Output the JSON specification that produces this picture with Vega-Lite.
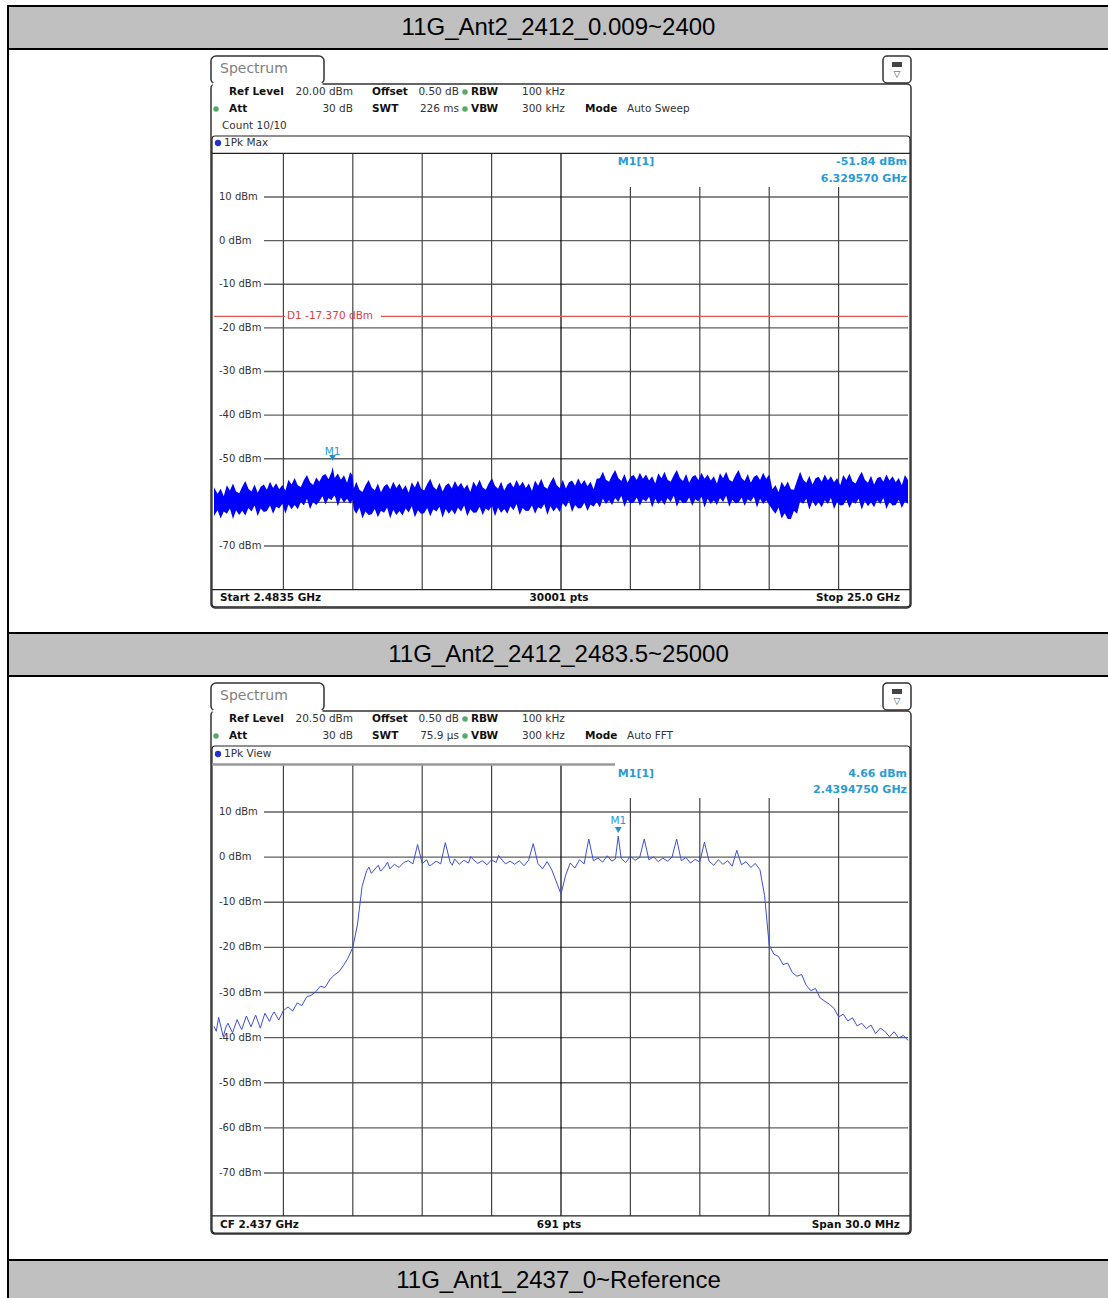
{
"$schema":"https://vega.github.io/schema/vega-lite/v6.json",
"padding":{"left":7,"top":5,"right":0,"bottom":0},
"spacing":0,
"bounds":"flush",
"background":"white",
"config":{"view":{"stroke":null},"concat":{"spacing":0},"axis":{"disable":true},
"text":{"font":"DejaVu Sans","fontSize":10.5,"baseline":"middle","align":"left","color":"#333"}},
"vconcat":[
{"width":1101,"height":43,"view":{"fill":"#c0c0c0","stroke":"#000","strokeWidth":2},
"data":{"values":[{"t":"11G_Ant2_2412_0.009~2400"}]},
"mark":{"type":"text","font":"Liberation Sans","fontSize":24,"align":"center","baseline":"middle","color":"#000"},
"encoding":{"text":{"field":"t","type":"nominal"},
"x":{"datum":0.5,"scale":{"domain":[0,1],"nice":false,"zero":false}},
"y":{"datum":0.5,"scale":{"domain":[0,1],"nice":false,"zero":false}}}},
{"width":1101,"height":584,"view":{"stroke":"#000","strokeWidth":2},
"data":{"values":[{}]},
"layer":[
{"data":{"values":[{"v":10},{"v":0},{"v":-10},{"v":-20},{"v":-30},{"v":-40},{"v":-50},{"v":-60},{"v":-70}]},
"mark":{"type":"rule","color":"#606060","strokeWidth":1.3},
"encoding":{"y":{"field":"v","type":"quantitative","scale":{"domain":[-89.948,43.931],"nice":false,"zero":false}},
"x":{"datum":4.1057,"scale":{"domain":[-4.20007,31.52134],"nice":false,"zero":false}},"x2":{"datum":25.0}}},
{"data":{"values":[{"f":4.73515},{"f":6.9868},{"f":9.23845},{"f":11.4901}]},"mark":{"type":"rule","color":"#444","strokeWidth":1.2},
"encoding":{"x":{"field":"f","type":"quantitative"},"y":{"datum":-80},"y2":{"datum":20}}},
{"data":{"values":[{"f":15.9934},{"f":18.24505},{"f":20.4967},{"f":22.74835}]},"mark":{"type":"rule","color":"#444","strokeWidth":1.2},
"encoding":{"x":{"field":"f","type":"quantitative"},"y":{"datum":-80},"y2":{"datum":12.3}}},
{"mark":{"type":"rule","color":"#000","strokeWidth":1.2},"encoding":{"x":{"datum":13.74175},"y":{"datum":-80},"y2":{"datum":20}}},
{"data":{"values":[{"v":10,"l":"10 dBm"},{"v":0,"l":"0 dBm"},{"v":-10,"l":"-10 dBm"},{"v":-20,"l":"-20 dBm"},{"v":-30,"l":"-30 dBm"},{"v":-40,"l":"-40 dBm"},{"v":-50,"l":"-50 dBm"},{"v":-60,"l":"-60 dBm"},{"v":-70,"l":"-70 dBm"}]},
"mark":{"type":"text","fontSize":10,"color":"#333"},
"encoding":{"x":{"datum":2.6457},"y":{"field":"v","type":"quantitative"},"text":{"field":"l","type":"nominal"}}},
{"mark":{"type":"rule","color":"#e05555","strokeWidth":1.2},"encoding":{"x":{"datum":2.4835},"x2":{"datum":4.7871},"y":{"datum":-17.37}}},
{"mark":{"type":"rule","color":"#e05555","strokeWidth":1.2},"encoding":{"x":{"datum":7.9017},"x2":{"datum":25.0},"y":{"datum":-17.37}}},
{"mark":{"type":"text","text":"D1 -17.370 dBm","color":"#e0403a","fontSize":10.5},"encoding":{"x":{"datum":4.8519},"y":{"datum":-17.37}}},
{"data":{"values":[
{"f":2.4835,"lo":-63.1,"hi":-56.6},{"f":2.6,"lo":-61.8,"hi":-58.0},{"f":2.7,"lo":-63.7,"hi":-56.9},{"f":2.8,"lo":-62.1,"hi":-58.6},
{"f":2.9,"lo":-62.6,"hi":-56.1},{"f":3.0,"lo":-61.4,"hi":-57.3},{"f":3.1,"lo":-63.8,"hi":-55.7},{"f":3.2,"lo":-61.8,"hi":-57.5},
{"f":3.3,"lo":-62.9,"hi":-57.9},{"f":3.4,"lo":-61.9,"hi":-56.4},{"f":3.5,"lo":-63.0,"hi":-55.1},{"f":3.6,"lo":-61.3,"hi":-56.9},
{"f":3.7,"lo":-62.1,"hi":-57.5},{"f":3.8,"lo":-60.7,"hi":-55.9},{"f":3.9,"lo":-63.1,"hi":-57.8},{"f":4.0,"lo":-61.4,"hi":-56.4},
{"f":4.1,"lo":-62.2,"hi":-55.9},{"f":4.2,"lo":-62.0,"hi":-57.1},{"f":4.3,"lo":-60.7,"hi":-55.3},{"f":4.4,"lo":-62.6,"hi":-56.7},
{"f":4.5,"lo":-61.0,"hi":-55.6},{"f":4.6,"lo":-61.4,"hi":-57.0},{"f":4.7,"lo":-60.3,"hi":-56.0},{"f":4.8,"lo":-62.6,"hi":-57.3},
{"f":4.9,"lo":-60.5,"hi":-54.8},{"f":5.0,"lo":-61.6,"hi":-55.9},{"f":5.1,"lo":-60.6,"hi":-54.4},{"f":5.2,"lo":-61.6,"hi":-56.1},
{"f":5.3,"lo":-59.9,"hi":-56.5},{"f":5.4,"lo":-60.7,"hi":-54.9},{"f":5.5,"lo":-59.2,"hi":-53.7},{"f":5.6,"lo":-61.6,"hi":-55.4},
{"f":5.7,"lo":-59.9,"hi":-56.0},{"f":5.8,"lo":-60.6,"hi":-54.3},{"f":5.9,"lo":-59.8,"hi":-55.3},{"f":6.0,"lo":-58.6,"hi":-53.9},
{"f":6.1,"lo":-60.5,"hi":-53.5},{"f":6.2,"lo":-59.0,"hi":-54.7},{"f":6.3,"lo":-59.5,"hi":-53.0},{"f":6.3296,"lo":-59.0,"hi":-51.84},
{"f":6.4,"lo":-58.4,"hi":-54.4},{"f":6.5,"lo":-60.9,"hi":-53.4},{"f":6.6,"lo":-58.9,"hi":-54.8},{"f":6.7,"lo":-60.1,"hi":-53.8},
{"f":6.8,"lo":-59.2,"hi":-55.5},{"f":6.9,"lo":-60.3,"hi":-53.1},{"f":6.98,"lo":-59.4,"hi":-53.8},{"f":7.02,"lo":-61.7,"hi":-56.8},
{"f":7.1,"lo":-62.6,"hi":-55.3},{"f":7.2,"lo":-61.2,"hi":-57.1},{"f":7.3,"lo":-63.7,"hi":-57.6},{"f":7.4,"lo":-62.1,"hi":-56.1},
{"f":7.5,"lo":-62.9,"hi":-54.9},{"f":7.6,"lo":-62.7,"hi":-56.6},{"f":7.7,"lo":-61.5,"hi":-57.3},{"f":7.8,"lo":-63.4,"hi":-55.7},
{"f":7.9,"lo":-61.9,"hi":-57.7},{"f":8.0,"lo":-62.4,"hi":-56.3},{"f":8.1,"lo":-61.2,"hi":-55.8},{"f":8.2,"lo":-63.7,"hi":-57.0},
{"f":8.3,"lo":-61.7,"hi":-55.3},{"f":8.4,"lo":-62.9,"hi":-56.7},{"f":8.5,"lo":-62.0,"hi":-55.7},{"f":8.6,"lo":-63.0,"hi":-57.1},
{"f":8.7,"lo":-61.4,"hi":-56.1},{"f":8.8,"lo":-62.3,"hi":-57.8},{"f":8.9,"lo":-60.9,"hi":-55.4},{"f":9.0,"lo":-63.4,"hi":-56.6},
{"f":9.1,"lo":-61.8,"hi":-55.0},{"f":9.2,"lo":-62.6,"hi":-56.8},{"f":9.3,"lo":-62.5,"hi":-57.3},{"f":9.4,"lo":-61.3,"hi":-55.8},
{"f":9.5,"lo":-63.2,"hi":-54.6},{"f":9.6,"lo":-61.6,"hi":-56.4},{"f":9.7,"lo":-62.1,"hi":-57.1},{"f":9.8,"lo":-61.0,"hi":-55.5},
{"f":9.9,"lo":-63.5,"hi":-57.5},{"f":10.0,"lo":-61.5,"hi":-56.1},{"f":10.1,"lo":-62.6,"hi":-55.6},{"f":10.2,"lo":-61.7,"hi":-56.8},
{"f":10.3,"lo":-62.8,"hi":-55.1},{"f":10.4,"lo":-61.2,"hi":-56.5},{"f":10.5,"lo":-62.1,"hi":-55.5},{"f":10.6,"lo":-60.7,"hi":-56.9},
{"f":10.7,"lo":-63.2,"hi":-55.9},{"f":10.8,"lo":-61.6,"hi":-57.6},{"f":10.9,"lo":-62.4,"hi":-55.2},{"f":11.0,"lo":-62.3,"hi":-56.4},
{"f":11.1,"lo":-61.0,"hi":-54.8},{"f":11.2,"lo":-62.9,"hi":-56.6},{"f":11.3,"lo":-61.4,"hi":-57.1},{"f":11.4,"lo":-61.9,"hi":-55.6},
{"f":11.5,"lo":-60.8,"hi":-54.4},{"f":11.6,"lo":-63.2,"hi":-56.2},{"f":11.7,"lo":-61.2,"hi":-56.9},{"f":11.8,"lo":-62.4,"hi":-55.3},
{"f":11.9,"lo":-61.5,"hi":-57.3},{"f":12.0,"lo":-62.6,"hi":-55.9},{"f":12.1,"lo":-60.9,"hi":-55.4},{"f":12.2,"lo":-61.8,"hi":-56.6},
{"f":12.3,"lo":-60.4,"hi":-54.9},{"f":12.4,"lo":-62.9,"hi":-56.3},{"f":12.5,"lo":-61.3,"hi":-55.3},{"f":12.6,"lo":-62.0,"hi":-56.7},
{"f":12.7,"lo":-61.9,"hi":-55.7},{"f":12.8,"lo":-60.7,"hi":-57.4},{"f":12.9,"lo":-62.6,"hi":-55.0},{"f":13.0,"lo":-61.1,"hi":-56.2},
{"f":13.1,"lo":-61.5,"hi":-54.6},{"f":13.2,"lo":-60.4,"hi":-56.4},{"f":13.3,"lo":-62.9,"hi":-56.9},{"f":13.4,"lo":-60.9,"hi":-55.4},
{"f":13.5,"lo":-62.1,"hi":-54.2},{"f":13.6,"lo":-61.1,"hi":-56.0},{"f":13.7,"lo":-62.2,"hi":-56.7},{"f":13.8,"lo":-60.2,"hi":-54.8},
{"f":13.9,"lo":-61.1,"hi":-56.8},{"f":14.0,"lo":-59.7,"hi":-55.4},{"f":14.1,"lo":-62.2,"hi":-55.0},{"f":14.2,"lo":-60.6,"hi":-56.2},
{"f":14.3,"lo":-61.4,"hi":-54.5},{"f":14.4,"lo":-61.3,"hi":-55.9},{"f":14.5,"lo":-60.1,"hi":-54.9},{"f":14.6,"lo":-62.0,"hi":-56.3},
{"f":14.7,"lo":-60.5,"hi":-55.3},{"f":14.8,"lo":-61.0,"hi":-57.0},{"f":14.9,"lo":-59.9,"hi":-54.6},{"f":15.0,"lo":-61.2,"hi":-54.5},
{"f":15.1,"lo":-59.2,"hi":-53.0},{"f":15.2,"lo":-60.4,"hi":-54.8},{"f":15.3,"lo":-59.5,"hi":-55.3},{"f":15.4,"lo":-60.6,"hi":-53.8},
{"f":15.5,"lo":-59.0,"hi":-52.6},{"f":15.6,"lo":-59.9,"hi":-54.4},{"f":15.7,"lo":-58.5,"hi":-55.1},{"f":15.8,"lo":-61.0,"hi":-53.5},
{"f":15.9,"lo":-59.4,"hi":-55.5},{"f":16.0,"lo":-60.2,"hi":-54.1},{"f":16.1,"lo":-60.1,"hi":-53.7},{"f":16.2,"lo":-58.9,"hi":-54.9},
{"f":16.3,"lo":-60.8,"hi":-53.2},{"f":16.4,"lo":-59.3,"hi":-54.6},{"f":16.5,"lo":-59.8,"hi":-53.6},{"f":16.6,"lo":-58.7,"hi":-55.0},
{"f":16.7,"lo":-61.2,"hi":-54.0},{"f":16.8,"lo":-59.2,"hi":-55.7},{"f":16.9,"lo":-60.4,"hi":-53.3},{"f":17.0,"lo":-59.5,"hi":-54.5},
{"f":17.1,"lo":-60.6,"hi":-53.0},{"f":17.2,"lo":-59.0,"hi":-54.8},{"f":17.3,"lo":-59.9,"hi":-55.3},{"f":17.4,"lo":-58.5,"hi":-53.8},
{"f":17.5,"lo":-61.0,"hi":-52.6},{"f":17.6,"lo":-59.4,"hi":-54.4},{"f":17.7,"lo":-60.2,"hi":-55.1},{"f":17.8,"lo":-60.1,"hi":-53.5},
{"f":17.9,"lo":-58.9,"hi":-55.5},{"f":18.0,"lo":-60.8,"hi":-54.1},{"f":18.1,"lo":-59.3,"hi":-53.7},{"f":18.2,"lo":-59.8,"hi":-54.9},
{"f":18.3,"lo":-58.7,"hi":-53.2},{"f":18.4,"lo":-61.2,"hi":-54.6},{"f":18.5,"lo":-59.2,"hi":-53.6},{"f":18.6,"lo":-60.4,"hi":-55.0},
{"f":18.7,"lo":-59.5,"hi":-54.0},{"f":18.8,"lo":-60.6,"hi":-55.7},{"f":18.9,"lo":-59.0,"hi":-53.3},{"f":19.0,"lo":-59.9,"hi":-54.5},
{"f":19.1,"lo":-58.5,"hi":-53.0},{"f":19.2,"lo":-61.0,"hi":-54.8},{"f":19.3,"lo":-59.4,"hi":-55.3},{"f":19.4,"lo":-60.2,"hi":-53.8},
{"f":19.5,"lo":-60.1,"hi":-52.6},{"f":19.6,"lo":-58.9,"hi":-54.4},{"f":19.7,"lo":-60.8,"hi":-55.1},{"f":19.8,"lo":-59.3,"hi":-53.5},
{"f":19.9,"lo":-59.8,"hi":-55.5},{"f":20.0,"lo":-58.7,"hi":-54.1},{"f":20.1,"lo":-61.2,"hi":-53.7},{"f":20.2,"lo":-59.2,"hi":-54.9},
{"f":20.3,"lo":-60.4,"hi":-53.2},{"f":20.4,"lo":-59.5,"hi":-54.6},{"f":20.5,"lo":-60.6,"hi":-53.6},{"f":20.6,"lo":-61.7,"hi":-57.0},
{"f":20.7,"lo":-62.6,"hi":-56.0},{"f":20.8,"lo":-61.2,"hi":-57.7},{"f":20.9,"lo":-63.7,"hi":-55.3},{"f":21.0,"lo":-62.5,"hi":-56.5},
{"f":21.1,"lo":-63.8,"hi":-55.2},{"f":21.2,"lo":-63.8,"hi":-57.0},{"f":21.3,"lo":-61.9,"hi":-57.1},{"f":21.4,"lo":-62.6,"hi":-55.0},
{"f":21.5,"lo":-59.8,"hi":-53.0},{"f":21.6,"lo":-60.3,"hi":-54.8},{"f":21.7,"lo":-59.2,"hi":-55.5},{"f":21.8,"lo":-61.7,"hi":-53.9},
{"f":21.9,"lo":-59.7,"hi":-55.9},{"f":22.0,"lo":-60.9,"hi":-54.5},{"f":22.1,"lo":-60.0,"hi":-54.1},{"f":22.2,"lo":-61.1,"hi":-55.3},
{"f":22.3,"lo":-59.5,"hi":-53.6},{"f":22.4,"lo":-60.4,"hi":-55.0},{"f":22.5,"lo":-59.0,"hi":-54.0},{"f":22.6,"lo":-61.5,"hi":-55.4},
{"f":22.7,"lo":-59.9,"hi":-54.4},{"f":22.8,"lo":-60.7,"hi":-56.1},{"f":22.9,"lo":-60.6,"hi":-53.7},{"f":23.0,"lo":-59.4,"hi":-54.9},
{"f":23.1,"lo":-61.3,"hi":-53.4},{"f":23.2,"lo":-59.8,"hi":-55.2},{"f":23.3,"lo":-60.3,"hi":-55.7},{"f":23.4,"lo":-59.2,"hi":-54.2},
{"f":23.5,"lo":-61.7,"hi":-53.0},{"f":23.6,"lo":-59.7,"hi":-54.8},{"f":23.7,"lo":-60.9,"hi":-55.5},{"f":23.8,"lo":-60.0,"hi":-53.9},
{"f":23.9,"lo":-61.1,"hi":-55.9},{"f":24.0,"lo":-59.5,"hi":-54.5},{"f":24.1,"lo":-60.4,"hi":-54.1},{"f":24.2,"lo":-59.0,"hi":-55.3},
{"f":24.3,"lo":-61.5,"hi":-53.6},{"f":24.4,"lo":-59.9,"hi":-55.0},{"f":24.5,"lo":-60.7,"hi":-54.0},{"f":24.6,"lo":-60.6,"hi":-55.4},
{"f":24.7,"lo":-59.4,"hi":-54.4},{"f":24.8,"lo":-61.3,"hi":-56.1},{"f":24.9,"lo":-59.8,"hi":-53.7},{"f":25.0,"lo":-60.3,"hi":-54.9}]},
"mark":{"type":"area","color":"#0000ff"},
"encoding":{"x":{"field":"f","type":"quantitative"},"y":{"field":"lo","type":"quantitative"},"y2":{"field":"hi"}}},
{"mark":{"type":"point","shape":"triangle-down","filled":true,"color":"#1f8fd0","size":45,"opacity":1},"encoding":{"x":{"datum":6.32957},"y":{"datum":-49.82}}},
{"mark":{"type":"text","text":"M1","align":"center","color":"#2a9bd5","fontSize":10.5},"encoding":{"x":{"datum":6.32957},"y":{"datum":-48.45}}},
{"mark":{"type":"text","text":"M1[1]","align":"center","color":"#2a9bd5","fontSize":11,"fontWeight":"bold"},"encoding":{"x":{"datum":16.1751},"y":{"datum":18.03}}},
{"mark":{"type":"text","text":"-51.84 dBm","align":"right","color":"#2a9bd5","fontSize":11,"fontWeight":"bold"},"encoding":{"x":{"datum":24.9676},"y":{"datum":18.03}}},
{"mark":{"type":"text","text":"6.329570 GHz","align":"right","color":"#2a9bd5","fontSize":11,"fontWeight":"bold"},"encoding":{"x":{"datum":24.9676},"y":{"datum":14.132}}},
{"mark":{"type":"rect","fill":"transparent","stroke":"#333","strokeWidth":1.5,"cornerRadius":4},"encoding":{"x":{"datum":2.3862},"x2":{"datum":25.0973},"y":{"datum":35.908},"y2":{"datum":-84.206}}},
{"mark":{"type":"rect","fill":"transparent","stroke":"#222","strokeWidth":1.2,"cornerRadius":3},"encoding":{"x":{"datum":2.4186},"x2":{"datum":25.0648},"y":{"datum":23.989},"y2":{"datum":-83.977}}},
{"mark":{"type":"rule","color":"#222","strokeWidth":1.2},"encoding":{"x":{"datum":2.4186},"x2":{"datum":25.0648},"y":{"datum":20}}},
{"mark":{"type":"rule","color":"#222","strokeWidth":1.2},"encoding":{"x":{"datum":2.4186},"x2":{"datum":25.0648},"y":{"datum":-80}}},
{"mark":{"type":"rect","fill":"white","stroke":"#333","strokeWidth":1.5,"cornerRadius":5},"encoding":{"x":{"datum":2.3862},"x2":{"datum":6.0524},"y":{"datum":42.327},"y2":{"datum":35.908}}},
{"mark":{"type":"rule","color":"white","strokeWidth":2.5},"encoding":{"x":{"datum":2.4348},"x2":{"datum":6.0037},"y":{"datum":35.908}}},
{"mark":{"type":"rect","fill":"white","stroke":"#333","strokeWidth":1.5,"cornerRadius":4},"encoding":{"x":{"datum":24.1889},"x2":{"datum":25.0973},"y":{"datum":42.327},"y2":{"datum":36.137}}},
{"mark":{"type":"rect","fill":"#444"},"encoding":{"x":{"datum":24.4809},"x2":{"datum":24.8053},"y":{"datum":40.951},"y2":{"datum":39.805}}},
{"mark":{"type":"text","text":"▽","align":"center","fontSize":9,"color":"#444"},"encoding":{"x":{"datum":24.6431},"y":{"datum":38.2}}},
{"mark":{"type":"text","text":"Spectrum","fontSize":14,"color":"#808080"},"encoding":{"x":{"datum":2.6782},"y":{"datum":39.347}}},
{"mark":{"type":"text","text":"Ref Level","fontWeight":"bold","color":"#111"},"encoding":{"x":{"datum":2.9702},"y":{"datum":34.075}}},
{"mark":{"type":"text","text":"20.00 dBm","align":"right"},"encoding":{"x":{"datum":6.9933},"y":{"datum":34.075}}},
{"mark":{"type":"text","text":"Offset","fontWeight":"bold","color":"#111"},"encoding":{"x":{"datum":7.6098},"y":{"datum":34.075}}},
{"mark":{"type":"text","text":"0.50 dB","align":"right"},"encoding":{"x":{"datum":10.4324},"y":{"datum":34.075}}},
{"mark":{"type":"text","text":"RBW","fontWeight":"bold","color":"#111"},"encoding":{"x":{"datum":10.8218},"y":{"datum":34.075}}},
{"mark":{"type":"text","text":"100 kHz"},"encoding":{"x":{"datum":12.4764},"y":{"datum":34.075}}},
{"mark":{"type":"text","text":"Att","fontWeight":"bold","color":"#111"},"encoding":{"x":{"datum":2.9702},"y":{"datum":30.178}}},
{"mark":{"type":"text","text":"30 dB","align":"right"},"encoding":{"x":{"datum":6.9933},"y":{"datum":30.178}}},
{"mark":{"type":"text","text":"SWT","fontWeight":"bold","color":"#111"},"encoding":{"x":{"datum":7.6098},"y":{"datum":30.178}}},
{"mark":{"type":"text","text":"226 ms","align":"right"},"encoding":{"x":{"datum":10.4324},"y":{"datum":30.178}}},
{"mark":{"type":"text","text":"VBW","fontWeight":"bold","color":"#111"},"encoding":{"x":{"datum":10.8218},"y":{"datum":30.178}}},
{"mark":{"type":"text","text":"300 kHz"},"encoding":{"x":{"datum":12.4764},"y":{"datum":30.178}}},
{"mark":{"type":"text","text":"Mode","fontWeight":"bold","color":"#111"},"encoding":{"x":{"datum":14.5204},"y":{"datum":30.178}}},
{"mark":{"type":"text","text":"Auto Sweep"},"encoding":{"x":{"datum":15.8831},"y":{"datum":30.178}}},
{"mark":{"type":"text","text":"Count 10/10"},"encoding":{"x":{"datum":2.7431},"y":{"datum":26.281}}},
{"mark":{"type":"text","text":"1Pk Max"},"encoding":{"x":{"datum":2.8079},"y":{"datum":22.384}}},
{"mark":{"type":"point","shape":"circle","filled":true,"color":"#55aa66","size":30,"opacity":1},"encoding":{"x":{"datum":10.6271},"y":{"datum":34.075}}},
{"mark":{"type":"point","shape":"circle","filled":true,"color":"#55aa66","size":30,"opacity":1},"encoding":{"x":{"datum":10.6271},"y":{"datum":30.178}}},
{"mark":{"type":"point","shape":"circle","filled":true,"color":"#55aa66","size":30,"opacity":1},"encoding":{"x":{"datum":2.5484},"y":{"datum":30.178}}},
{"mark":{"type":"point","shape":"circle","filled":true,"color":"#2233cc","size":40,"opacity":1},"encoding":{"x":{"datum":2.6133},"y":{"datum":22.384}}},
{"mark":{"type":"text","text":"Start 2.4835 GHz","fontWeight":"bold","color":"#111","fontSize":10.5},"encoding":{"x":{"datum":2.6782},"y":{"datum":-81.91}}},
{"mark":{"type":"text","text":"30001 pts","fontWeight":"bold","color":"#111","align":"center","fontSize":10.5},"encoding":{"x":{"datum":13.6769},"y":{"datum":-81.91}}},
{"mark":{"type":"text","text":"Stop 25.0 GHz","fontWeight":"bold","color":"#111","align":"right","fontSize":10.5},"encoding":{"x":{"datum":24.7405},"y":{"datum":-81.91}}}
]},
{"width":1101,"height":43,"view":{"fill":"#c0c0c0","stroke":"#000","strokeWidth":2},
"data":{"values":[{"t":"11G_Ant2_2412_2483.5~25000"}]},
"mark":{"type":"text","font":"Liberation Sans","fontSize":24,"align":"center","baseline":"middle","color":"#000"},
"encoding":{"text":{"field":"t","type":"nominal"},
"x":{"datum":0.5,"scale":{"domain":[0,1],"nice":false,"zero":false}},
"y":{"datum":0.5,"scale":{"domain":[0,1],"nice":false,"zero":false}}}},
{"width":1101,"height":584,"view":{"stroke":"#000","strokeWidth":2},
"data":{"values":[{}]},
"layer":[
{"data":{"values":[{"v":10},{"v":0},{"v":-10},{"v":-20},{"v":-30},{"v":-40},{"v":-50},{"v":-60},{"v":-70}]},
"mark":{"type":"rule","color":"#606060","strokeWidth":1.3},
"encoding":{"y":{"field":"v","type":"quantitative","scale":{"domain":[-89.273,40.134],"nice":false,"zero":false}},
"x":{"datum":2424.161,"scale":{"domain":[2413.095,2460.689],"nice":false,"zero":false}},"x2":{"datum":2452}}},
{"data":{"values":[{"f":2425},{"f":2428},{"f":2431},{"f":2434}]},"mark":{"type":"rule","color":"#444","strokeWidth":1.2},
"encoding":{"x":{"field":"f","type":"quantitative"},"y":{"datum":-79.5},"y2":{"datum":20.5}}},
{"data":{"values":[{"f":2440},{"f":2443},{"f":2446},{"f":2449}]},"mark":{"type":"rule","color":"#444","strokeWidth":1.2},
"encoding":{"x":{"field":"f","type":"quantitative"},"y":{"datum":-79.5},"y2":{"datum":13.098}}},
{"mark":{"type":"rule","color":"#000","strokeWidth":1.2},"encoding":{"x":{"datum":2437},"y":{"datum":-79.5},"y2":{"datum":20.5}}},
{"data":{"values":[{"v":10,"l":"10 dBm"},{"v":0,"l":"0 dBm"},{"v":-10,"l":"-10 dBm"},{"v":-20,"l":"-20 dBm"},{"v":-30,"l":"-30 dBm"},{"v":-40,"l":"-40 dBm"},{"v":-50,"l":"-50 dBm"},{"v":-60,"l":"-60 dBm"},{"v":-70,"l":"-70 dBm"}]},
"mark":{"type":"text","fontSize":10,"color":"#333"},
"encoding":{"x":{"datum":2422.216},"y":{"field":"v","type":"quantitative"},"text":{"field":"l","type":"nominal"}}},
{"data":{"values":[
{"f":2422.0,"p":-37.5},{"f":2422.1,"p":-38.6},{"f":2422.2,"p":-35.5},{"f":2422.4,"p":-39.8},{"f":2422.5,"p":-37.9},{"f":2422.6,"p":-36.8},{"f":2422.8,"p":-38.9},{"f":2423.0,"p":-36.0},
{"f":2423.1,"p":-37.2},{"f":2423.2,"p":-38.2},{"f":2423.4,"p":-35.2},{"f":2423.6,"p":-37.6},{"f":2423.7,"p":-36.3},{"f":2423.8,"p":-35.0},{"f":2424.0,"p":-37.9},{"f":2424.2,"p":-34.6},
{"f":2424.4,"p":-36.4},{"f":2424.5,"p":-35.1},{"f":2424.6,"p":-34.3},{"f":2424.8,"p":-36.1},{"f":2425.0,"p":-34.0},{"f":2425.2,"p":-33.2},{"f":2425.4,"p":-34.1},
{"f":2425.6,"p":-32.3},{"f":2425.8,"p":-32.9},{"f":2426.0,"p":-31.0},{"f":2426.2,"p":-30.6},{"f":2426.4,"p":-29.8},{"f":2426.6,"p":-28.6},
{"f":2426.8,"p":-28.9},{"f":2427.0,"p":-27.2},{"f":2427.2,"p":-26.1},{"f":2427.4,"p":-25.4},{"f":2427.6,"p":-24.0},{"f":2427.8,"p":-22.3},
{"f":2428.0,"p":-20.0},{"f":2428.2,"p":-15.0},{"f":2428.4,"p":-6.5},{"f":2428.6,"p":-3.0},{"f":2428.7,"p":-2.2},{"f":2428.8,"p":-3.6},{"f":2429.0,"p":-2.4},
{"f":2429.1,"p":-1.8},{"f":2429.2,"p":-3.1},{"f":2429.4,"p":-2.0},{"f":2429.5,"p":-1.1},{"f":2429.6,"p":-2.6},{"f":2429.8,"p":-1.6},{"f":2430.0,"p":-2.3},{"f":2430.2,"p":-1.2},
{"f":2430.4,"p":-0.8},{"f":2430.6,"p":-1.5},{"f":2430.8,"p":2.8},{"f":2431.0,"p":-1.4},{"f":2431.2,"p":-0.6},{"f":2431.3,"p":-1.9},{"f":2431.4,"p":-1.7},
{"f":2431.6,"p":-0.9},{"f":2431.8,"p":-1.5},{"f":2432.0,"p":3.2},{"f":2432.2,"p":-1.0},{"f":2432.3,"p":-1.8},{"f":2432.4,"p":-0.4},{"f":2432.6,"p":-1.6},
{"f":2432.8,"p":-0.7},{"f":2433.0,"p":-1.3},{"f":2433.1,"p":0.1},{"f":2433.2,"p":-0.5},{"f":2433.4,"p":-1.4},{"f":2433.6,"p":-0.8},{"f":2433.8,"p":-1.7},
{"f":2434.0,"p":-0.6},{"f":2434.2,"p":-1.2},{"f":2434.3,"p":0.4},{"f":2434.4,"p":-0.3},{"f":2434.6,"p":-1.5},{"f":2434.8,"p":-0.9},{"f":2435.0,"p":-1.6},
{"f":2435.2,"p":-0.8},{"f":2435.4,"p":-1.9},{"f":2435.6,"p":-0.7},{"f":2435.8,"p":3.0},{"f":2436.0,"p":-1.4},{"f":2436.2,"p":-2.6},
{"f":2436.4,"p":-1.0},{"f":2436.6,"p":-2.8},{"f":2436.8,"p":-5.5},{"f":2437.0,"p":-8.2},{"f":2437.2,"p":-4.0},{"f":2437.4,"p":-1.3},
{"f":2437.6,"p":-2.4},{"f":2437.8,"p":-0.6},{"f":2438.0,"p":-1.5},{"f":2438.2,"p":4.0},{"f":2438.4,"p":-0.8},{"f":2438.6,"p":-0.2},
{"f":2438.8,"p":-1.1},{"f":2439.0,"p":0.3},{"f":2439.2,"p":-0.9},{"f":2439.35,"p":-0.4},{"f":2439.475,"p":4.66},{"f":2439.6,"p":-0.3},
{"f":2439.8,"p":-1.2},{"f":2440.0,"p":0.2},{"f":2440.2,"p":-0.7},{"f":2440.4,"p":-0.1},{"f":2440.6,"p":4.0},{"f":2440.8,"p":-0.6},
{"f":2441.0,"p":0.1},{"f":2441.2,"p":-1.0},{"f":2441.4,"p":-0.2},{"f":2441.6,"p":-0.9},{"f":2441.8,"p":0.0},{"f":2442.0,"p":4.0},
{"f":2442.2,"p":-0.8},{"f":2442.4,"p":-0.1},{"f":2442.6,"p":-1.3},{"f":2442.8,"p":-0.5},{"f":2443.0,"p":-1.1},{"f":2443.2,"p":3.3},
{"f":2443.4,"p":-0.9},{"f":2443.6,"p":-1.8},{"f":2443.8,"p":-0.6},{"f":2444.0,"p":-1.6},{"f":2444.2,"p":-0.8},{"f":2444.4,"p":-2.0},
{"f":2444.6,"p":1.5},{"f":2444.8,"p":-1.7},{"f":2445.0,"p":-1.0},{"f":2445.2,"p":-2.3},{"f":2445.4,"p":-1.4},{"f":2445.6,"p":-2.8},
{"f":2445.8,"p":-8.5},{"f":2446.0,"p":-19.5},{"f":2446.2,"p":-21.5},{"f":2446.4,"p":-22.0},{"f":2446.6,"p":-23.8},{"f":2446.8,"p":-23.5},
{"f":2447.0,"p":-25.6},{"f":2447.2,"p":-26.4},{"f":2447.4,"p":-26.0},{"f":2447.6,"p":-28.4},{"f":2447.8,"p":-29.6},{"f":2448.0,"p":-29.1},
{"f":2448.2,"p":-31.2},{"f":2448.4,"p":-31.9},{"f":2448.6,"p":-32.6},{"f":2448.8,"p":-33.5},{"f":2449.0,"p":-35.4},{"f":2449.2,"p":-34.8},
{"f":2449.4,"p":-36.3},{"f":2449.6,"p":-35.6},{"f":2449.8,"p":-37.4},{"f":2450.0,"p":-36.8},{"f":2450.2,"p":-38.0},{"f":2450.4,"p":-37.2},
{"f":2450.6,"p":-39.1},{"f":2450.8,"p":-37.9},{"f":2451.0,"p":-38.6},{"f":2451.2,"p":-39.8},{"f":2451.4,"p":-38.7},{"f":2451.6,"p":-40.1},
{"f":2451.8,"p":-39.5},{"f":2452.0,"p":-40.6}]},
"mark":{"type":"line","color":"#3b4fd6","strokeWidth":1},
"encoding":{"x":{"field":"f","type":"quantitative"},"y":{"field":"p","type":"quantitative"}}},
{"mark":{"type":"point","shape":"triangle-down","filled":true,"color":"#1f8fd0","size":45,"opacity":1},"encoding":{"x":{"datum":2439.475},"y":{"datum":6.007}}},
{"mark":{"type":"text","text":"M1","align":"center","color":"#2a9bd5","fontSize":10.5},"encoding":{"x":{"datum":2439.475},"y":{"datum":8.0}}},
{"mark":{"type":"text","text":"M1[1]","align":"center","color":"#2a9bd5","fontSize":11,"fontWeight":"bold"},"encoding":{"x":{"datum":2440.242},"y":{"datum":18.417}}},
{"mark":{"type":"text","text":"4.66 dBm","align":"right","color":"#2a9bd5","fontSize":11,"fontWeight":"bold"},"encoding":{"x":{"datum":2451.957},"y":{"datum":18.417}}},
{"mark":{"type":"text","text":"2.4394750 GHz","align":"right","color":"#2a9bd5","fontSize":11,"fontWeight":"bold"},"encoding":{"x":{"datum":2451.957},"y":{"datum":14.871}}},
{"mark":{"type":"rect","fill":"transparent","stroke":"#333","strokeWidth":1.5,"cornerRadius":4},"encoding":{"x":{"datum":2421.870},"x2":{"datum":2452.130},"y":{"datum":32.378},"y2":{"datum":-83.52}}},
{"mark":{"type":"rect","fill":"transparent","stroke":"#222","strokeWidth":1.2,"cornerRadius":3},"encoding":{"x":{"datum":2421.914},"x2":{"datum":2452.087},"y":{"datum":24.622},"y2":{"datum":-83.30}}},
{"mark":{"type":"rule","color":"#999","strokeWidth":2.5},"encoding":{"x":{"datum":2421.914},"x2":{"datum":2439.334},"y":{"datum":20.5}}},
{"mark":{"type":"rule","color":"#222","strokeWidth":1.2},"encoding":{"x":{"datum":2421.914},"x2":{"datum":2452.087},"y":{"datum":-79.5}}},
{"mark":{"type":"rect","fill":"white","stroke":"#333","strokeWidth":1.5,"cornerRadius":5},"encoding":{"x":{"datum":2421.870},"x2":{"datum":2426.755},"y":{"datum":38.583},"y2":{"datum":32.378}}},
{"mark":{"type":"rule","color":"white","strokeWidth":2.5},"encoding":{"x":{"datum":2421.935},"x2":{"datum":2426.690},"y":{"datum":32.378}}},
{"mark":{"type":"rect","fill":"white","stroke":"#333","strokeWidth":1.5,"cornerRadius":4},"encoding":{"x":{"datum":2450.919},"x2":{"datum":2452.130},"y":{"datum":38.583},"y2":{"datum":32.600}}},
{"mark":{"type":"rect","fill":"#444"},"encoding":{"x":{"datum":2451.308},"x2":{"datum":2451.740},"y":{"datum":37.25},"y2":{"datum":36.14}}},
{"mark":{"type":"text","text":"▽","align":"center","fontSize":9,"color":"#444"},"encoding":{"x":{"datum":2451.524},"y":{"datum":34.59}}},
{"mark":{"type":"text","text":"Spectrum","fontSize":14,"color":"#808080"},"encoding":{"x":{"datum":2422.259},"y":{"datum":35.702}}},
{"mark":{"type":"text","text":"Ref Level","fontWeight":"bold","color":"#111"},"encoding":{"x":{"datum":2422.648},"y":{"datum":30.605}}},
{"mark":{"type":"text","text":"20.50 dBm","align":"right"},"encoding":{"x":{"datum":2428.009},"y":{"datum":30.605}}},
{"mark":{"type":"text","text":"Offset","fontWeight":"bold","color":"#111"},"encoding":{"x":{"datum":2428.830},"y":{"datum":30.605}}},
{"mark":{"type":"text","text":"0.50 dB","align":"right"},"encoding":{"x":{"datum":2432.591},"y":{"datum":30.605}}},
{"mark":{"type":"text","text":"RBW","fontWeight":"bold","color":"#111"},"encoding":{"x":{"datum":2433.110},"y":{"datum":30.605}}},
{"mark":{"type":"text","text":"100 kHz"},"encoding":{"x":{"datum":2435.314},"y":{"datum":30.605}}},
{"mark":{"type":"text","text":"Att","fontWeight":"bold","color":"#111"},"encoding":{"x":{"datum":2422.648},"y":{"datum":26.838}}},
{"mark":{"type":"text","text":"30 dB","align":"right"},"encoding":{"x":{"datum":2428.009},"y":{"datum":26.838}}},
{"mark":{"type":"text","text":"SWT","fontWeight":"bold","color":"#111"},"encoding":{"x":{"datum":2428.830},"y":{"datum":26.838}}},
{"mark":{"type":"text","text":"75.9 µs","align":"right"},"encoding":{"x":{"datum":2432.591},"y":{"datum":26.838}}},
{"mark":{"type":"text","text":"VBW","fontWeight":"bold","color":"#111"},"encoding":{"x":{"datum":2433.110},"y":{"datum":26.838}}},
{"mark":{"type":"text","text":"300 kHz"},"encoding":{"x":{"datum":2435.314},"y":{"datum":26.838}}},
{"mark":{"type":"text","text":"Mode","fontWeight":"bold","color":"#111"},"encoding":{"x":{"datum":2438.037},"y":{"datum":26.838}}},
{"mark":{"type":"text","text":"Auto FFT"},"encoding":{"x":{"datum":2439.853},"y":{"datum":26.838}}},
{"mark":{"type":"text","text":"1Pk View"},"encoding":{"x":{"datum":2422.432},"y":{"datum":22.849}}},
{"mark":{"type":"point","shape":"circle","filled":true,"color":"#55aa66","size":30,"opacity":1},"encoding":{"x":{"datum":2432.850},"y":{"datum":30.605}}},
{"mark":{"type":"point","shape":"circle","filled":true,"color":"#55aa66","size":30,"opacity":1},"encoding":{"x":{"datum":2432.850},"y":{"datum":26.838}}},
{"mark":{"type":"point","shape":"circle","filled":true,"color":"#55aa66","size":30,"opacity":1},"encoding":{"x":{"datum":2422.086},"y":{"datum":26.838}}},
{"mark":{"type":"point","shape":"circle","filled":true,"color":"#2233cc","size":40,"opacity":1},"encoding":{"x":{"datum":2422.173},"y":{"datum":22.849}}},
{"mark":{"type":"text","text":"CF 2.437 GHz","fontWeight":"bold","color":"#111"},"encoding":{"x":{"datum":2422.259},"y":{"datum":-81.53}}},
{"mark":{"type":"text","text":"691 pts","fontWeight":"bold","color":"#111","align":"center"},"encoding":{"x":{"datum":2436.914},"y":{"datum":-81.53}}},
{"mark":{"type":"text","text":"Span 30.0 MHz","fontWeight":"bold","color":"#111","align":"right"},"encoding":{"x":{"datum":2451.654},"y":{"datum":-81.53}}}
]},
{"width":1101,"height":39,"view":{"fill":"#c0c0c0","stroke":"#000","strokeWidth":2},
"data":{"values":[{"t":"11G_Ant1_2437_0~Reference"}]},
"mark":{"type":"text","font":"Liberation Sans","fontSize":24,"align":"center","baseline":"middle","color":"#000"},
"encoding":{"text":{"field":"t","type":"nominal"},
"x":{"datum":0.5,"scale":{"domain":[0,1],"nice":false,"zero":false}},
"y":{"datum":0.449,"scale":{"domain":[0,1],"nice":false,"zero":false}}}}
]}
